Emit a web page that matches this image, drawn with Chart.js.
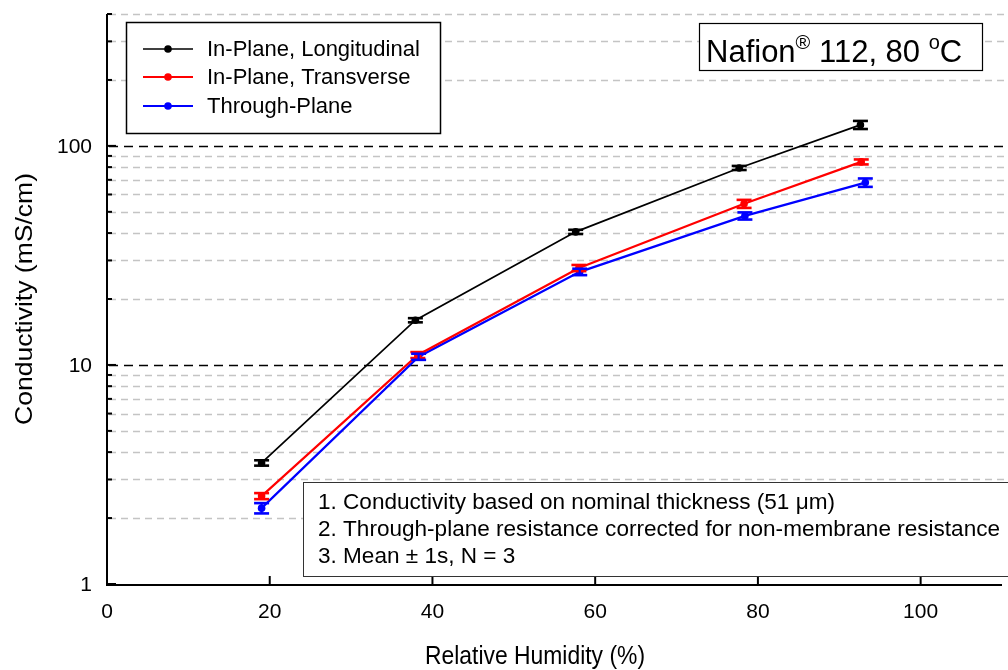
<!DOCTYPE html>
<html>
<head>
<meta charset="utf-8">
<script src="https://cdn.jsdelivr.net/npm/chart.js@4/dist/chart.umd.min.js"></script>
<style>
html,body{margin:0;padding:0;background:#fff;}
#wrap{width:1008px;height:670px;position:relative;}
</style>
</head>
<body>
<div id="wrap"><canvas id="c" width="1008" height="670"></canvas></div>
<script>
// ---- data ----
const seriesNames = ['In-Plane, Longitudinal', 'In-Plane, Transverse', 'Through-Plane'];
const seriesColors = ['#000000', '#ff0000', '#0000ff'];
const rhLong = [19.0, 37.9, 57.6, 77.7, 92.6];
const sigmaLong = [3.57, 16.0, 40.5, 79.3, 124.7];
const errLong = [0.10, 0.35, 0.9, 1.7, 5.3];
const rhTrans = [19.0, 38.2, 58.0, 78.3, 92.7];
const sigmaTrans = [2.52, 11.1, 27.7, 54.4, 84.5];
const errTrans = [0.08, 0.35, 0.9, 2.3, 2.2];
const rhThru = [19.0, 38.3, 58.1, 78.4, 93.2];
const sigmaThru = [2.22, 10.9, 26.6, 47.9, 68.0];
const errThru = [0.12, 0.35, 0.9, 1.8, 3.0];
const xTickValues = [0, 20, 40, 60, 80, 100];
const yMajorTicks = [1, 10, 100];
const yMinorTicks = [2,3,4,5,6,7,8,9,20,30,40,50,60,70,80,90,200,300,400];
const notes = ['1. Conductivity based on nominal thickness (51 \u03bcm)',
               '2. Through-plane resistance corrected for non-membrane resistance',
               '3. Mean \u00b1 1s, N = 3'];
const xTitle = 'Relative Humidity (%)';
const yTitle = 'Conductivity (mS/cm)';

const FONT = '"Liberation Sans", Arial, Helvetica, sans-serif';

function mk(xs, ys) { return xs.map((x, i) => ({x: x, y: ys[i]})); }
const allX = [rhLong, rhTrans, rhThru];
const allY = [sigmaLong, sigmaTrans, sigmaThru];
const allE = [errLong, errTrans, errThru];
const widths = [1.7, 2.2, 2.2];

const datasets = seriesNames.map((n, i) => ({
  label: n,
  data: mk(allX[i], allY[i]),
  borderColor: seriesColors[i],
  backgroundColor: seriesColors[i],
  borderWidth: widths[i],
  pointRadius: 3.8,
  pointBorderWidth: 0,
  pointHoverRadius: 3.8,
  tension: 0,
  fill: false
}));

function fitText(ctx, text, x, y, targetW, px, align, family) {
  ctx.save();
  ctx.font = px + 'px ' + (family || FONT);
  const w = ctx.measureText(text).width;
  const s = targetW ? targetW / w : 1;
  ctx.translate(x, y);
  ctx.scale(s, 1);
  ctx.textAlign = align || 'left';
  ctx.fillText(text, 0, 0);
  ctx.restore();
  return w * s;
}

const deco = {
  id: 'deco',
  beforeDatasetsDraw(chart) {
    const ctx = chart.ctx, xs = chart.scales.x, ys = chart.scales.y, a = chart.chartArea;
    ctx.save();
    ctx.lineWidth = 1.5;
    ctx.strokeStyle = '#c4c4c4';
    ctx.setLineDash([7, 5]);
    yMinorTicks.forEach(v => {
      const py = Math.round(ys.getPixelForValue(v)) + 0.5;
      ctx.beginPath(); ctx.moveTo(a.left + 2, py); ctx.lineTo(a.right + 10, py); ctx.stroke();
    });
    ctx.strokeStyle = '#000';
    ctx.setLineDash([9, 6]);
    yMajorTicks.slice(1).forEach(v => {
      const py = Math.round(ys.getPixelForValue(v)) + 0.5;
      ctx.beginPath(); ctx.moveTo(a.left + 2, py); ctx.lineTo(a.right + 10, py); ctx.stroke();
    });
    ctx.restore();
  },
  afterDatasetsDraw(chart) {
    const ctx = chart.ctx, xs = chart.scales.x, ys = chart.scales.y, a = chart.chartArea;
    ctx.save();
    // error bars
    allX.forEach((xv, si) => {
      ctx.strokeStyle = seriesColors[si];
      xv.forEach((x, i) => {
        const px = xs.getPixelForValue(x);
        const y = allY[si][i], e = allE[si][i];
        const pt = ys.getPixelForValue(y + e), pb = ys.getPixelForValue(y - e);
        ctx.lineWidth = 2.2;
        ctx.beginPath(); ctx.moveTo(px, pt); ctx.lineTo(px, pb); ctx.stroke();
        ctx.lineWidth = 2.6;
        ctx.beginPath(); ctx.moveTo(px - 7.5, pt); ctx.lineTo(px + 7.5, pt); ctx.stroke();
        ctx.beginPath(); ctx.moveTo(px - 7.5, pb); ctx.lineTo(px + 7.5, pb); ctx.stroke();
      });
    });
    // axes
    ctx.strokeStyle = '#000';
    ctx.lineWidth = 2;
    ctx.beginPath(); ctx.moveTo(a.left, a.top); ctx.lineTo(a.left, a.bottom + 1); ctx.lineTo(a.right, a.bottom + 1); ctx.stroke();
    yMajorTicks.forEach(v => {
      const py = ys.getPixelForValue(v);
      ctx.beginPath(); ctx.moveTo(a.left, py); ctx.lineTo(a.left + 9, py); ctx.stroke();
    });
    yMinorTicks.forEach(v => {
      const py = ys.getPixelForValue(v);
      ctx.beginPath(); ctx.moveTo(a.left, py); ctx.lineTo(a.left + 5, py); ctx.stroke();
    });
    xTickValues.forEach(v => {
      const px = xs.getPixelForValue(v);
      ctx.beginPath(); ctx.moveTo(px, a.bottom); ctx.lineTo(px, a.bottom - 8); ctx.stroke();
    });
    // tick labels
    ctx.fillStyle = '#000';
    ctx.font = '21px ' + FONT;
    ctx.textBaseline = 'middle';
    ctx.textAlign = 'right';
    yMajorTicks.forEach(v => ctx.fillText(String(v), a.left - 15, ys.getPixelForValue(v) + 1));
    ctx.textAlign = 'center';
    xTickValues.forEach(v => ctx.fillText(String(v), xs.getPixelForValue(v), a.bottom + 28));
    // axis titles
    ctx.textBaseline = 'middle';
    fitText(ctx, xTitle, 535, 657, 220, 25, 'center');
    ctx.save();
    ctx.translate(25, (a.top + a.bottom) / 2);
    ctx.rotate(-Math.PI / 2);
    fitText(ctx, yTitle, 0, 0, 252, 24, 'center');
    ctx.restore();

    // legend box
    ctx.fillStyle = '#fff';
    ctx.fillRect(126, 22, 314, 111);
    ctx.strokeStyle = '#000';
    ctx.lineWidth = 1.5;
    ctx.strokeRect(126.5, 22.5, 314, 111);
    const ly = [49, 77, 106];
    seriesNames.forEach((n, i) => {
      ctx.strokeStyle = seriesColors[i];
      ctx.fillStyle = seriesColors[i];
      ctx.lineWidth = widths[i];
      ctx.beginPath(); ctx.moveTo(143, ly[i]); ctx.lineTo(193, ly[i]); ctx.stroke();
      ctx.beginPath(); ctx.arc(168, ly[i], 3.8, 0, Math.PI * 2); ctx.fill();
      ctx.fillStyle = '#000';
      ctx.textBaseline = 'middle';
      fitText(ctx, n, 207, ly[i] + 1, null, 22, 'left');
    });

    // Nafion box
    ctx.fillStyle = '#fff';
    ctx.fillRect(699, 23, 283, 47);
    ctx.strokeStyle = '#000';
    ctx.lineWidth = 1.2;
    ctx.strokeRect(699.5, 23.5, 283, 47);
    ctx.fillStyle = '#000';
    ctx.textBaseline = 'alphabetic';
    ctx.textAlign = 'left';
    let x = 706, base = 62;
    ctx.font = '31px ' + FONT; ctx.fillText('Nafion', x, base); x += ctx.measureText('Nafion').width;
    ctx.font = '20px ' + FONT; ctx.fillText('\u00ae', x, base - 13); x += ctx.measureText('\u00ae').width;
    ctx.font = '31px ' + FONT; ctx.fillText(' 112, 80 ', x, base); x += ctx.measureText(' 112, 80 ').width;
    ctx.font = '20px ' + FONT; ctx.fillText('o', x, base - 13); x += ctx.measureText('o').width;
    ctx.font = '31px ' + FONT; ctx.fillText('C', x, base);

    // notes box
    ctx.fillStyle = '#fff';
    ctx.fillRect(303, 482, 720, 94);
    ctx.strokeStyle = '#333';
    ctx.lineWidth = 1;
    ctx.strokeRect(303.5, 482.5, 720, 94);
    ctx.fillStyle = '#000';
    ctx.textBaseline = 'middle';
    ctx.font = '22px ' + FONT;
    const s = 682 / ctx.measureText(notes[1]).width;
    const ny = [503, 530, 557];
    notes.forEach((t, i) => {
      ctx.save();
      ctx.font = '22px ' + FONT;
      ctx.translate(318, ny[i]);
      ctx.scale(s, 1);
      ctx.textAlign = 'left';
      ctx.fillText(t, 0, 0);
      ctx.restore();
    });
    ctx.restore();
  }
};

new Chart(document.getElementById('c'), {
  type: 'line',
  data: { datasets: datasets },
  options: {
    responsive: false,
    animation: false,
    layout: { padding: { left: 0, right: 6, top: 14, bottom: 0 } },
    plugins: { legend: { display: false }, tooltip: { enabled: false } },
    scales: {
      x: {
        type: 'linear', min: 0, max: 110,
        ticks: { display: false },
        grid: { display: false },
        border: { display: false },
        afterFit: s => { s.height = 86; }
      },
      y: {
        type: 'logarithmic', min: 1, max: 400,
        ticks: { display: false },
        grid: { display: false },
        border: { display: false },
        afterFit: s => { s.width = 107; }
      }
    }
  },
  plugins: [deco]
});
</script>
</body>
</html>
